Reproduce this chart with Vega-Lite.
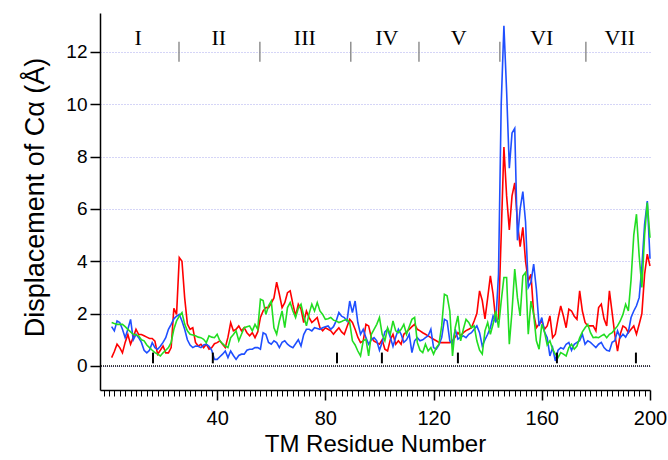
{
"$schema": "https://vega.github.io/schema/vega-lite/v6.json",
"width": 550, "height": 377,
"autosize": {"type": "none"},
"padding": {"left": 100, "top": 13, "right": 18, "bottom": 70},
"background": "white",
"config": {"view": {"stroke": null}, "font": "Liberation Sans"},
"datasets": {"disp": [
{"r":1,"R":0.32,"B":1.5,"G":1.66},{"r":2,"R":0.55,"B":1.34,"G":1.62},{"r":3,"R":0.83,"B":1.72,"G":1.59},{"r":4,"R":0.7,"B":1.66,"G":1.59},{"r":5,"R":0.5,"B":1.4,"G":1.59},
{"r":6,"R":0.9,"B":1.08,"G":1.5},{"r":7,"R":1.2,"B":1.4,"G":1.4},{"r":8,"R":0.83,"B":1.78,"G":1.3},{"r":9,"R":1.1,"B":1.0,"G":1.21},{"r":10,"R":1.4,"B":1.21,"G":1.18},
{"r":11,"R":1.2,"B":1.08,"G":1.15},{"r":12,"R":1.2,"B":0.9,"G":1.0},{"r":13,"R":1.15,"B":0.6,"G":0.96},{"r":14,"R":1.1,"B":0.5,"G":0.8},{"r":15,"R":1.05,"B":0.6,"G":0.7},
{"r":16,"R":1.05,"B":0.89,"G":0.6},{"r":17,"R":0.95,"B":0.7,"G":0.51},{"r":18,"R":0.45,"B":0.64,"G":0.45},{"r":19,"R":0.6,"B":0.75,"G":0.38},{"r":20,"R":0.76,"B":0.9,"G":0.5},
{"r":21,"R":0.5,"B":1.08,"G":0.6},{"r":22,"R":0.5,"B":1.4,"G":0.7},{"r":23,"R":0.7,"B":1.59,"G":0.9},{"r":24,"R":2.2,"B":1.8,"G":1.4},{"r":25,"R":1.97,"B":1.9,"G":1.72},
{"r":26,"R":4.14,"B":1.97,"G":1.9},{"r":27,"R":4.0,"B":1.72,"G":2.04},{"r":28,"R":2.6,"B":1.4,"G":1.6},{"r":29,"R":1.6,"B":1.0,"G":1.34},{"r":30,"R":1.4,"B":0.8,"G":1.21},
{"r":31,"R":1.46,"B":0.7,"G":1.18},{"r":32,"R":0.9,"B":0.76,"G":1.15},{"r":33,"R":0.76,"B":0.75,"G":1.1},{"r":34,"R":0.83,"B":0.7,"G":1.08},{"r":35,"R":0.7,"B":0.8,"G":1.02},
{"r":36,"R":0.83,"B":0.83,"G":0.89},{"r":37,"R":0.64,"B":0.75,"G":1.15},{"r":38,"R":0.7,"B":0.6,"G":1.1},{"r":39,"R":0.85,"B":0.25,"G":1.08},{"r":40,"R":0.89,"B":0.25,"G":1.21},
{"r":41,"R":0.96,"B":0.35,"G":0.96},{"r":42,"R":0.83,"B":0.45,"G":0.85},{"r":43,"R":0.7,"B":0.57,"G":0.76},{"r":44,"R":1.1,"B":0.32,"G":0.7},{"r":45,"R":1.65,"B":0.57,"G":1.08},
{"r":46,"R":1.34,"B":0.4,"G":1.2},{"r":47,"R":1.4,"B":0.25,"G":1.34},{"r":48,"R":1.53,"B":0.4,"G":0.96},{"r":49,"R":1.34,"B":0.45,"G":1.21},{"r":50,"R":1.46,"B":0.45,"G":1.46},
{"r":51,"R":1.27,"B":0.6,"G":1.5},{"r":52,"R":1.15,"B":0.64,"G":1.53},{"r":53,"R":1.27,"B":0.64,"G":1.34},{"r":54,"R":1.08,"B":0.7,"G":1.59},{"r":55,"R":1.3,"B":0.7,"G":1.4},
{"r":56,"R":1.85,"B":0.64,"G":2.55},{"r":57,"R":2.1,"B":1.27,"G":2.5},{"r":58,"R":2.23,"B":1.21,"G":1.97},{"r":59,"R":2.23,"B":0.9,"G":2.3},{"r":60,"R":2.4,"B":0.83,"G":2.48},
{"r":61,"R":2.6,"B":0.96,"G":1.46},{"r":62,"R":3.2,"B":0.89,"G":1.21},{"r":63,"R":2.74,"B":0.7,"G":1.72},{"r":64,"R":2.23,"B":0.9,"G":2.1},{"r":65,"R":2.42,"B":0.96,"G":1.46},
{"r":66,"R":2.8,"B":0.83,"G":2.23},{"r":67,"R":2.87,"B":0.75,"G":2.42},{"r":68,"R":2.36,"B":0.7,"G":2.1},{"r":69,"R":1.91,"B":0.85,"G":1.85},{"r":70,"R":2.36,"B":1.0,"G":2.2},
{"r":71,"R":2.17,"B":0.76,"G":2.36},{"r":72,"R":1.66,"B":1.2,"G":1.91},{"r":73,"R":2.1,"B":1.4,"G":1.53},{"r":74,"R":1.85,"B":1.4,"G":2.0},{"r":75,"R":1.66,"B":1.34,"G":2.36},
{"r":76,"R":1.75,"B":1.46,"G":2.1},{"r":77,"R":1.85,"B":1.43,"G":2.42},{"r":78,"R":1.46,"B":1.4,"G":2.1},{"r":79,"R":1.34,"B":1.46,"G":1.97},{"r":80,"R":1.46,"B":1.5,"G":1.78},
{"r":81,"R":1.4,"B":1.53,"G":1.8},{"r":82,"R":1.34,"B":1.4,"G":1.85},{"r":83,"R":1.21,"B":1.5,"G":1.75},{"r":84,"R":1.34,"B":1.72,"G":1.72},{"r":85,"R":1.46,"B":2.04,"G":1.66},
{"r":86,"R":1.3,"B":1.9,"G":1.7},{"r":87,"R":1.21,"B":1.85,"G":1.75},{"r":88,"R":1.5,"B":1.72,"G":1.78},{"r":89,"R":1.78,"B":2.48,"G":1.66},{"r":90,"R":1.66,"B":2.04,"G":0.96},
{"r":91,"R":1.4,"B":2.48,"G":0.8},{"r":92,"R":1.1,"B":1.66,"G":0.57},{"r":93,"R":0.89,"B":1.21,"G":0.38},{"r":94,"R":0.96,"B":1.4,"G":0.96},{"r":95,"R":1.59,"B":1.08,"G":1.02},
{"r":96,"R":1.53,"B":0.83,"G":0.38},{"r":97,"R":1.08,"B":1.0,"G":1.21},{"r":98,"R":0.95,"B":1.08,"G":1.4},{"r":99,"R":0.89,"B":0.96,"G":1.59},{"r":100,"R":0.83,"B":0.6,"G":1.85},
{"r":101,"R":1.0,"B":0.9,"G":1.21},{"r":102,"R":0.64,"B":1.3,"G":0.96},{"r":103,"R":0.57,"B":1.4,"G":1.46},{"r":104,"R":1.0,"B":1.1,"G":1.21},{"r":105,"R":1.21,"B":0.75,"G":1.72},
{"r":106,"R":0.83,"B":1.1,"G":1.34},{"r":107,"R":0.96,"B":1.4,"G":1.27},{"r":108,"R":0.83,"B":1.21,"G":1.4},{"r":109,"R":1.21,"B":0.9,"G":1.59},{"r":110,"R":1.3,"B":1.0,"G":1.21},
{"r":111,"R":1.4,"B":1.21,"G":1.5},{"r":112,"R":1.5,"B":0.51,"G":1.78},{"r":113,"R":1.59,"B":0.96,"G":1.85},{"r":114,"R":1.4,"B":1.08,"G":0.89},{"r":115,"R":1.34,"B":0.96,"G":0.6},
{"r":116,"R":1.27,"B":1.0,"G":0.51},{"r":117,"R":1.21,"B":1.08,"G":0.83},{"r":118,"R":1.15,"B":1.15,"G":0.57},{"r":119,"R":1.08,"B":1.4,"G":0.7},{"r":120,"R":1.02,"B":0.7,"G":0.45},
{"r":121,"R":0.96,"B":0.64,"G":0.7},{"r":122,"R":0.9,"B":0.8,"G":0.83},{"r":123,"R":0.89,"B":1.08,"G":1.53},{"r":124,"R":0.89,"B":1.78,"G":2.74},{"r":125,"R":0.89,"B":1.72,"G":2.68},
{"r":126,"R":0.89,"B":0.96,"G":2.1},{"r":127,"R":0.96,"B":0.83,"G":0.38},{"r":128,"R":1.1,"B":1.4,"G":1.46},{"r":129,"R":1.27,"B":1.02,"G":1.91},{"r":130,"R":1.15,"B":1.1,"G":0.96},
{"r":131,"R":1.27,"B":1.15,"G":1.4},{"r":132,"R":1.35,"B":1.08,"G":1.78},{"r":133,"R":1.4,"B":1.21,"G":1.66},{"r":134,"R":1.46,"B":1.27,"G":1.46},{"r":135,"R":1.72,"B":1.4,"G":1.53},
{"r":136,"R":2.0,"B":1.53,"G":0.96},{"r":137,"R":2.87,"B":1.27,"G":0.6},{"r":138,"R":2.5,"B":0.76,"G":0.45},{"r":139,"R":1.8,"B":1.0,"G":1.34},{"r":140,"R":2.6,"B":1.21,"G":1.66},
{"r":141,"R":3.44,"B":1.46,"G":1.21},{"r":142,"R":2.74,"B":1.91,"G":1.6},{"r":143,"R":1.72,"B":1.66,"G":2.1},{"r":144,"R":1.8,"B":3.5,"G":1.46},{"r":145,"R":5.0,"B":10.0,"G":2.48},
{"r":146,"R":8.37,"B":13.0,"G":3.38},{"r":147,"R":6.5,"B":10.5,"G":3.38},{"r":148,"R":5.2,"B":7.56,"G":0.83},{"r":149,"R":6.5,"B":8.9,"G":2.1},{"r":150,"R":7.0,"B":9.08,"G":3.7},
{"r":151,"R":5.5,"B":4.8,"G":2.61},{"r":152,"R":4.56,"B":6.0,"G":1.91},{"r":153,"R":5.3,"B":6.66,"G":3.44},{"r":154,"R":4.0,"B":5.5,"G":3.57},{"r":155,"R":3.25,"B":3.0,"G":1.21},
{"r":156,"R":3.5,"B":3.2,"G":2.48},{"r":157,"R":2.0,"B":3.89,"G":1.97},{"r":158,"R":1.46,"B":2.93,"G":0.96},{"r":159,"R":1.6,"B":1.53,"G":0.64},{"r":160,"R":1.72,"B":1.85,"G":1.59},
{"r":161,"R":1.4,"B":1.3,"G":1.3},{"r":162,"R":1.53,"B":1.08,"G":0.8},{"r":163,"R":1.91,"B":0.38,"G":0.96},{"r":164,"R":1.08,"B":0.7,"G":0.64},{"r":165,"R":1.21,"B":0.19,"G":0.45},
{"r":166,"R":1.8,"B":0.6,"G":0.32},{"r":167,"R":2.29,"B":0.7,"G":0.51},{"r":168,"R":1.91,"B":0.65,"G":0.45},{"r":169,"R":1.46,"B":0.83,"G":0.38},{"r":170,"R":2.17,"B":0.9,"G":0.7},
{"r":171,"R":2.1,"B":0.6,"G":0.83},{"r":172,"R":1.9,"B":0.83,"G":0.64},{"r":173,"R":1.78,"B":0.9,"G":0.76},{"r":174,"R":2.87,"B":0.96,"G":1.08},{"r":175,"R":2.1,"B":1.21,"G":1.3},
{"r":176,"R":1.66,"B":0.83,"G":1.46},{"r":177,"R":1.53,"B":0.96,"G":1.59},{"r":178,"R":1.53,"B":0.9,"G":1.27},{"r":179,"R":1.53,"B":0.8,"G":1.08},{"r":180,"R":1.34,"B":0.7,"G":1.1},
{"r":181,"R":2.23,"B":0.83,"G":1.08},{"r":182,"R":2.36,"B":0.9,"G":1.15},{"r":183,"R":1.8,"B":0.7,"G":1.21},{"r":184,"R":1.53,"B":0.6,"G":1.08},{"r":185,"R":2.87,"B":0.57,"G":1.21},
{"r":186,"R":2.04,"B":0.9,"G":1.27},{"r":187,"R":1.2,"B":0.96,"G":1.4},{"r":188,"R":0.57,"B":1.34,"G":1.53},{"r":189,"R":1.21,"B":1.08,"G":1.72},{"r":190,"R":1.53,"B":1.21,"G":1.97},
{"r":191,"R":1.46,"B":1.1,"G":2.36},{"r":192,"R":1.27,"B":1.3,"G":2.1},{"r":193,"R":1.4,"B":1.85,"G":3.3},{"r":194,"R":1.53,"B":2.1,"G":5.0},{"r":195,"R":1.21,"B":2.3,"G":5.8},
{"r":196,"R":1.59,"B":2.61,"G":4.2},{"r":197,"R":2.0,"B":3.8,"G":3.0},{"r":198,"R":3.5,"B":5.4,"G":5.0},{"r":199,"R":4.27,"B":6.3,"G":6.24},{"r":200,"R":3.82,"B":4.1,"G":4.9}
]},
"layer": [
{"data": {"name": "disp"},
 "mark": {"type": "line", "color": "#ff0000", "strokeWidth": 1.6},
 "encoding": {
   "x": {"field": "r", "type": "quantitative", "title": "TM Residue Number", "scale": {"domain": [-3.3, 200], "nice": false, "zero": false},
     "axis": {"values": [-2,0,2,4,6,8,10,12,14,16,18,20,22,24,26,28,30,32,34,36,38,40,42,44,46,48,50,52,54,56,58,60,62,64,66,68,70,72,74,76,78,80,82,84,86,88,90,92,94,96,98,100,102,104,106,108,110,112,114,116,118,120,122,124,126,128,130,132,134,136,138,140,142,144,146,148,150,152,154,156,158,160,162,164,166,168,170,172,174,176,178,180,182,184,186,188,190,192,194,196,198,200],
       "tickCount": 400, "format": "d",
       "labelExpr": "datum.value % 40 === 0 && datum.value > 0 ? datum.label : ''",
       "tickSize": {"condition": {"test": "datum.value % 40 === 0 && datum.value > 0", "value": 10}, "value": 6},
       "tickWidth": {"condition": {"test": "datum.value % 40 === 0 && datum.value > 0", "value": 1.5}, "value": 1},
       "titleFontSize": 24, "titleFontWeight": "normal", "titleColor": "#000000", "titlePadding": 4,
       "labelFontSize": 20, "labelColor": "#000000", "labelPadding": 8, "labelFlush": false, "labelOverlap": false, "labelBound": false,
       "tickColor": "#000000", "domainColor": "#000000", "domainWidth": 1.5, "grid": false}},
   "y": {"field": "R", "type": "quantitative", "title": "Displacement of Cα (Å)",
     "scale": {"domain": [-0.92, 13.49], "nice": false, "zero": false},
     "axis": {"values": [0, 2, 4, 6, 8, 10, 12], "titleFontSize": 27, "titleFontWeight": "normal", "titleColor": "#000000", "titlePadding": 16, "titleY": 184,
       "labelFontSize": 19, "labelColor": "#000000", "labelPadding": 3, "tickSize": 10, "tickColor": "#000000", "tickWidth": 1.5, "domainColor": "#000000", "domainWidth": 1.5,
       "grid": true, "gridColor": "#aaaaee", "gridDash": [1, 2], "gridWidth": 1}}}},
{"data": {"values": [{"v": 0}]},
 "mark": {"type": "rule", "color": "#000000", "strokeDash": [1, 1], "strokeWidth": 1.5},
 "encoding": {"y": {"field": "v", "type": "quantitative"}}},
{"data": {"name": "disp"},
 "mark": {"type": "line", "color": "#1f4fff", "strokeWidth": 1.6},
 "encoding": {"x": {"field": "r", "type": "quantitative"}, "y": {"field": "B", "type": "quantitative"}}},
{"data": {"name": "disp"},
 "mark": {"type": "line", "color": "#22dd22", "strokeWidth": 1.6},
 "encoding": {"x": {"field": "r", "type": "quantitative"}, "y": {"field": "G", "type": "quantitative"}}},
{"data": {"values": [{"x": 16.3}, {"x": 38.4}, {"x": 84.3}, {"x": 100.9}, {"x": 129}, {"x": 165.6}, {"x": 194.8}]},
 "mark": {"type": "rule", "color": "#000000", "strokeWidth": 2},
 "encoding": {"x": {"field": "x", "type": "quantitative"}, "y": {"datum": 0.1, "type": "quantitative"}, "y2": {"datum": 0.51}}},
{"data": {"values": [{"x": 25.9}, {"x": 55.8}, {"x": 89.4}, {"x": 114.6}, {"x": 144.5}, {"x": 176.3}]},
 "mark": {"type": "rule", "color": "#888888", "strokeWidth": 1.4},
 "encoding": {"x": {"field": "x", "type": "quantitative"}, "y": {"datum": 11.63, "type": "quantitative"}, "y2": {"datum": 12.39}}},
{"data": {"values": [{"h": "I", "x": 10.8}, {"h": "II", "x": 40.6}, {"h": "III", "x": 72.4}, {"h": "IV", "x": 102.7}, {"h": "V", "x": 129.3}, {"h": "VI", "x": 160}, {"h": "VII", "x": 188.8}]},
 "mark": {"type": "text", "font": "Liberation Serif", "fontSize": 22, "color": "#000000", "baseline": "alphabetic", "align": "center"},
 "encoding": {"x": {"field": "x", "type": "quantitative"}, "y": {"datum": 12.27, "type": "quantitative"}, "text": {"field": "h"}}}
]
}
